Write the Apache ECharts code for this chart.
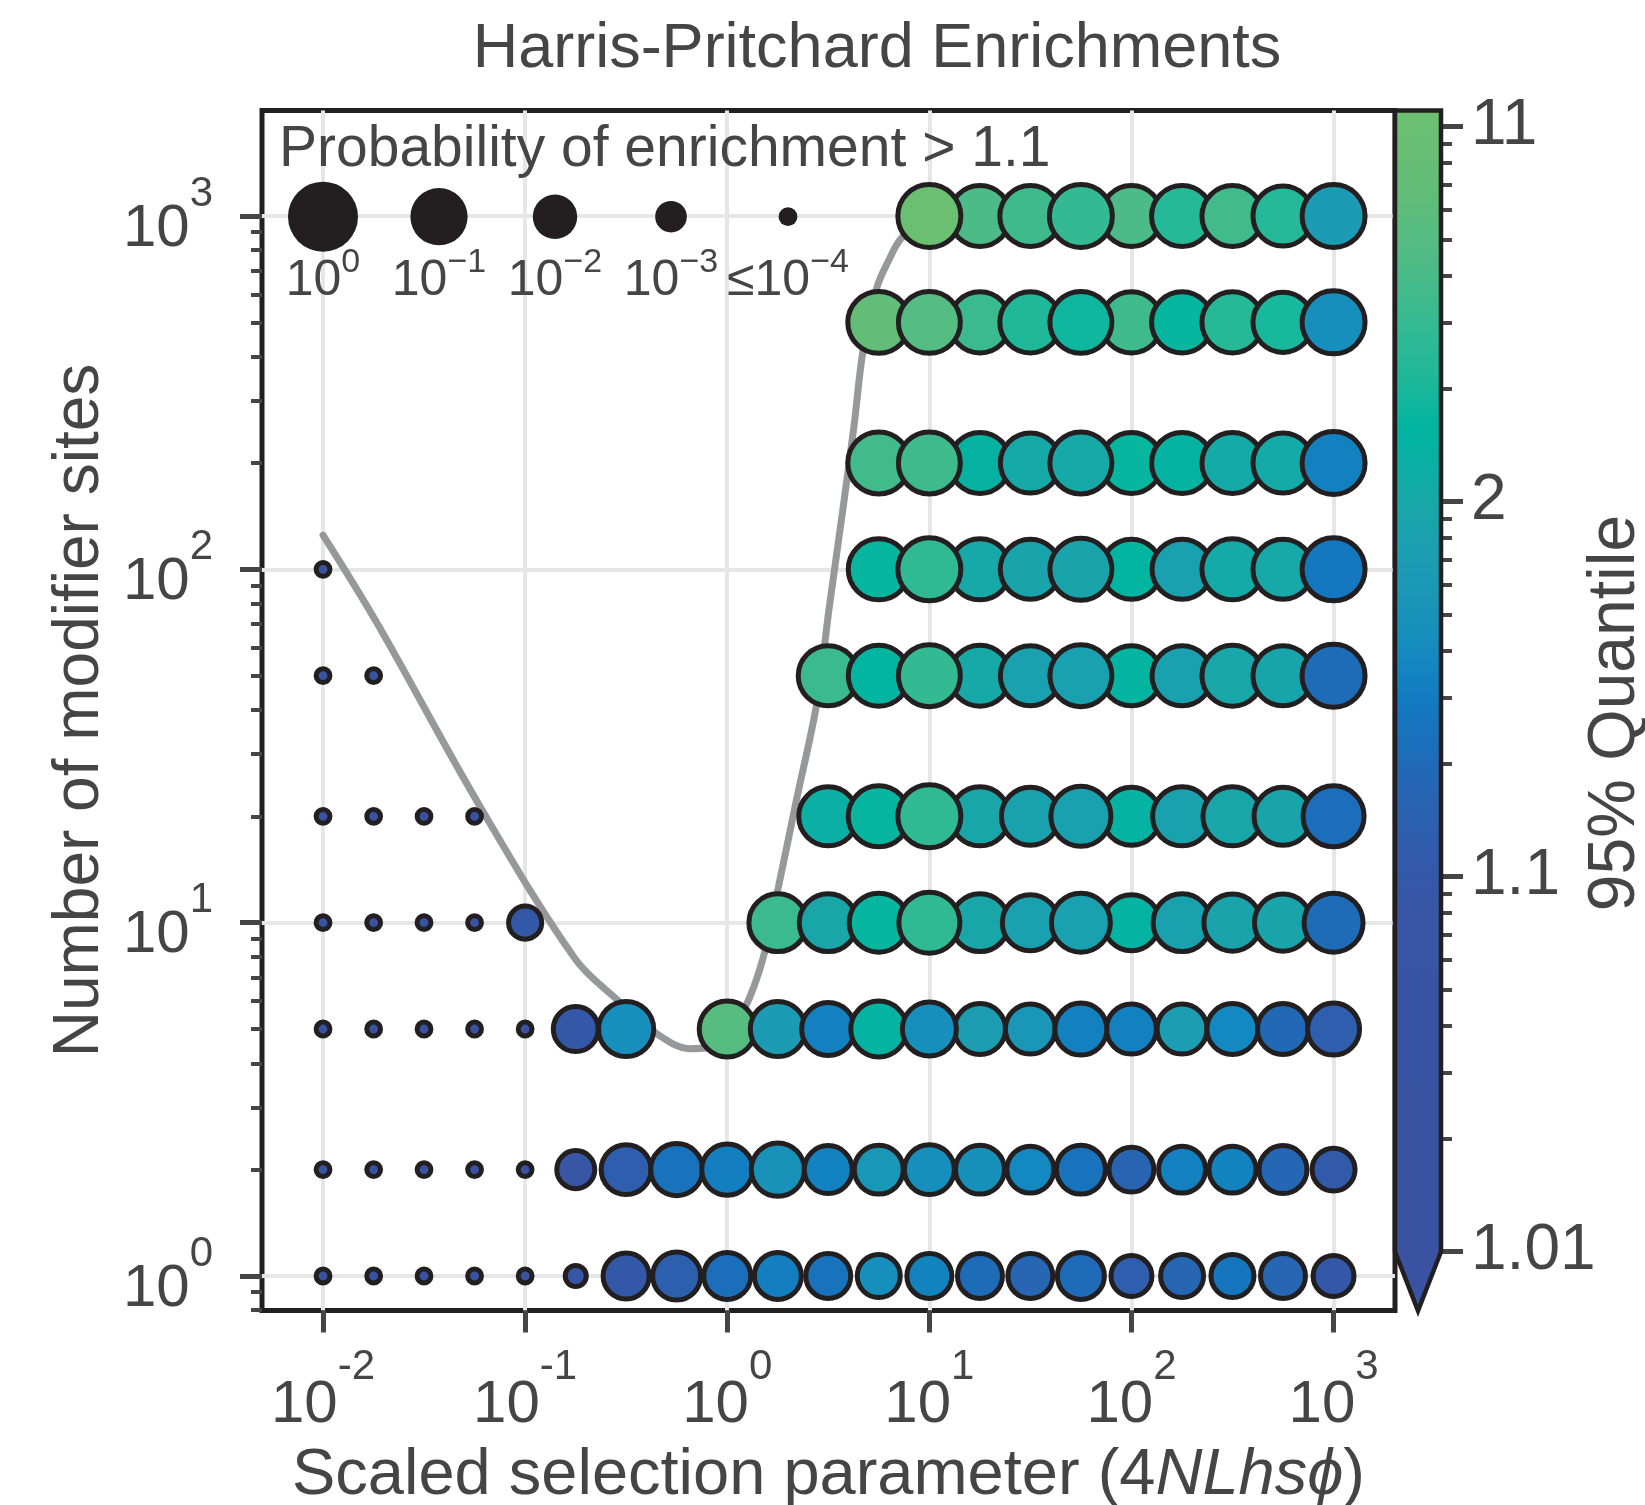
<!DOCTYPE html>
<html>
<head>
<meta charset="utf-8">
<script src="https://cdn.jsdelivr.net/npm/echarts@6/dist/echarts.min.js"></script>
<style>html,body{margin:0;padding:0;background:#fff}#chart{width:1645px;height:1505px}</style>
</head>
<body>
<div id="chart"></div>
<script>
// ---------------- DATA ----------------
const xValues = [0.01, 0.0178, 0.0316, 0.0562, 0.1, 0.178, 0.316, 0.562, 1, 1.78, 3.16,
                 5.62, 10, 17.8, 31.6, 56.2, 100, 178, 316, 562, 1000];
const siteCounts = [1, 2, 5, 10, 20, 50, 100, 200, 500, 1000];

// Probability of enrichment > 1.1 (null = no simulation)
const probN1    = [1e-4,1e-4,1e-4,1e-4,1e-4, 0.00037, 0.033,0.047,0.039,0.039,0.027, 0.019,0.027,0.027,0.027,0.039, 0.013,0.019,0.019,0.027,0.013];
const probN2    = [1e-4,1e-4,1e-4,1e-4,1e-4, 0.0078, 0.067,0.097,0.081,0.12,0.047, 0.056,0.067,0.056,0.039,0.056, 0.027,0.039,0.039,0.047,0.019];
const probN5    = [1e-4,1e-4,1e-4,1e-4,1e-4, 0.027, 0.17,null,0.20,0.17,0.12, 0.20,0.14,0.081,0.067,0.097, 0.067,0.067,0.081,0.081,0.097];
const probN10   = [1e-4,1e-4,1e-4,1e-4, 0.0032, null,null,null,null, 0.28,0.28, 0.34,0.49,0.28,0.20,0.34, 0.20,0.28,0.24,0.24,0.34];
const probN20   = [1e-4,1e-4,1e-4,1e-4, null,null,null,null,null,null, 0.34, 0.49,0.70,0.34,0.28,0.41, 0.28,0.34,0.34,0.28,0.49];
const probN50   = [1e-4,1e-4, null,null,null,null,null,null,null,null, 0.41, 0.49,0.58,0.49,0.41,0.58, 0.41,0.41,0.49,0.41,0.70];
const probN100  = [1e-4, null,null,null,null,null,null,null,null,null,null, 0.49,0.70,0.49,0.41,0.58, 0.41,0.41,0.49,0.41,0.70];
const probN200  = [null,null,null,null,null,null,null,null,null,null,null, 0.58,0.58,0.49,0.41,0.58, 0.49,0.49,0.49,0.41,0.70];
const probN500  = [null,null,null,null,null,null,null,null,null,null,null, 0.58,0.58,0.49,0.49,0.58, 0.49,0.49,0.49,0.41,0.70];
const probN1000 = [null,null,null,null,null,null,null,null,null,null,null,null, 0.70,0.49,0.49,0.70, 0.49,0.49,0.49,0.41,0.70];

// 95% quantile of enrichment
const quantN1    = [1.005,1.005,1.005,1.005,1.005, 1.063, 1.10,1.14,1.22,1.32,1.24, 1.45,1.35,1.21,1.17,1.21, 1.13,1.17,1.26,1.17,1.10];
const quantN2    = [1.005,1.005,1.005,1.005,1.005, 1.08, 1.13,1.24,1.32,1.50,1.34, 1.55,1.45,1.48,1.38,1.24, 1.16,1.33,1.35,1.18,1.11];
const quantN5    = [1.005,1.005,1.005,1.005,1.005, 1.10, 1.45,null,6.2,1.66,1.33, 2.45,1.45,1.70,1.56,1.33, 1.33,1.70,1.38,1.19,1.13];
const quantN10   = [1.005,1.005,1.005,1.005, 1.10, null,null,null,null, 4.3,1.95, 2.66,3.8,1.95,1.80,1.80, 2.45,1.83,1.87,1.87,1.21];
const quantN20   = [1.005,1.005,1.005,1.005, null,null,null,null,null,null, 2.26, 2.66,3.8,1.95,1.83,1.80, 2.45,1.83,1.95,1.87,1.22];
const quantN50   = [1.005,1.005, null,null,null,null,null,null,null,null, 4.3, 2.55,3.95,2.0,1.8,1.8, 2.48,1.8,1.95,1.9,1.21];
const quantN100  = [1.005, null,null,null,null,null,null,null,null,null,null, 2.66,3.8,2.0,1.87,1.87, 2.55,1.8,2.07,2.0,1.28];
const quantN200  = [null,null,null,null,null,null,null,null,null,null,null, 4.6,4.5,2.4,2.05,2.0, 2.66,2.45,2.07,2.07,1.33];
const quantN500  = [null,null,null,null,null,null,null,null,null,null,null, 7.8,6.0,4.3,3.2,2.8, 4.5,2.66,3.4,3.0,1.45];
const quantN1000 = [null,null,null,null,null,null,null,null,null,null,null,null, 11,5.2,4.5,3.95, 5.2,3.4,4.6,3.35,1.66];

// Grey boundary curve
const curveX = [0.01, 0.0184, 0.0596, 0.177, 0.286, 0.425, 0.656, 0.931, 1.21, 1.50, 1.79, 2.22, 2.77, 3.19, 3.71, 4.24, 4.71, 5.50, 6.27, 7.29, 10];
const curveY = [125, 70.8, 21.4, 7.89, 6.04, 4.95, 4.40, 4.55, 5.66, 7.89, 12.6, 22.8, 41.6, 77.3, 144, 255, 420, 627, 746, 867, 1000];

// Ticks / legend
const xTickExponents = [-2, -1, 0, 1, 2, 3];
const yTickExponents = [0, 1, 2, 3];
const colorbarTicks = [1.01, 1.1, 2, 11];
const legendProbs = [1, 0.1, 0.01, 0.001, 0.0001];
const legendExps = ['0', '\u22121', '\u22122', '\u22123', '\u22124'];
const legendPrefix = ['', '', '', '', '\u2264'];

// ---------------- STYLE ----------------
const FONT = '"Liberation Sans", Arial, Helvetica, sans-serif';
const TEXT = '#454545';
const EDGE = '#231f20';
const TICK = '#454545';
const GRIDC = '#e6e6e7';
const BORDER = 5;
const X_MIN = -2.302, X_MAX = 3.304, Y_MIN = -0.0977, Y_MAX = 3.2986;
const CB_MIN = -2, CB_MAX = 1.0426;

const cmapStops = [
  [-2.0, '#3a52a2'], [-1.1, '#3955a5'], [-1.0, '#3458a8'], [-0.82, '#2a62b0'], [-0.68, '#1e6cb8'],
  [-0.55, '#1278c0'], [-0.42, '#1488c0'], [-0.28, '#1a94b8'], [-0.15, '#1c9db2'], [0.0, '#17a8a8'],
  [0.19, '#00b5a0'], [0.30, '#18b89c'], [0.475, '#35ba92'], [0.65, '#50bb85'], [0.83, '#62bd78'], [1.0426, '#6cc070']
];
function hex2rgb(h){ return [parseInt(h.slice(1,3),16), parseInt(h.slice(3,5),16), parseInt(h.slice(5,7),16)]; }
function cmap(v){
  if (v <= cmapStops[0][0]) return cmapStops[0][1];
  for (let i = 1; i < cmapStops.length; i++) {
    if (v <= cmapStops[i][0]) {
      const a = cmapStops[i-1], b = cmapStops[i];
      const t = (v - a[0]) / (b[0] - a[0]);
      const ca = hex2rgb(a[1]), cb = hex2rgb(b[1]);
      const c = ca.map((x, k) => Math.round(x + (cb[k] - x) * t));
      return 'rgb(' + c.join(',') + ')';
    }
  }
  return cmapStops[cmapStops.length-1][1];
}
const NS = 80;
const cmapSamples = [];
for (let i = 0; i < NS; i++) cmapSamples.push(cmap(CB_MIN + (CB_MAX - CB_MIN) * i / (NS - 1)));
const gradStops = cmapSamples.map((c, i) => ({ offset: 1 - i / (NS - 1), color: c })).reverse();

function totalSize(logp){ return 70 + 12.8 * Math.max(logp, -4); }

// ---------------- BUILD ----------------
const probRows = [probN1, probN2, probN5, probN10, probN20, probN50, probN100, probN200, probN500, probN1000];
const quantRows = [quantN1, quantN2, quantN5, quantN10, quantN20, quantN50, quantN100, quantN200, quantN500, quantN1000];
const pts = [];
siteCounts.forEach((n, r) => {
  xValues.forEach((x, c) => {
    const p = probRows[r][c];
    if (p == null) return;
    const q = quantRows[r][c];
    pts.push({ col: c, value: [Math.log10(x), Math.log10(n), Math.max(Math.log10(p), -4), Math.max(Math.log10(q - 1), CB_MIN)] });
  });
});
const topCols = new Set([12, 15]);
const scatterData = pts.filter(p => !topCols.has(p.col)).concat(pts.filter(p => topCols.has(p.col)))
  .map(p => ({ value: p.value }));
const curveData = curveX.map((x, i) => [Math.log10(x), Math.log10(curveY[i])]);

const yMinor = [];
for (let e = -1; e <= 3; e++) for (let k = 2; k <= 9; k++) yMinor.push(e + Math.log10(k));
const cbMajor = colorbarTicks.map(q => Math.log10(q - 1));
const cbMinor = [];
for (let e = -2; e <= 1; e++) for (let k = 2; k <= 9; k++) cbMinor.push(e + Math.log10(k));

function supRich(base, sup, pad){
  return {
    b: { fontFamily: FONT, fontSize: base, color: TEXT, verticalAlign: 'bottom' },
    s: { fontFamily: FONT, fontSize: sup, color: TEXT, padding: [0, 0, pad, 0], verticalAlign: 'top' }
  };
}

const legendX = [323, 439, 555, 671, 788];
const graphics = [];
graphics.push({ type: 'text', x: 279, y: 150, z: 10, silent: true,
  style: { text: 'Probability of enrichment > 1.1', fontFamily: FONT, fontSize: 57, fill: TEXT,
           align: 'left', textAlign: 'left', verticalAlign: 'middle', textVerticalAlign: 'middle' } });
legendProbs.forEach((p, i) => {
  graphics.push({ type: 'circle', z: 10, silent: true, shape: { cx: legendX[i], cy: 216.7, r: totalSize(Math.log10(p)) / 2 }, style: { fill: EDGE } });
  graphics.push({ type: 'text', x: legendX[i], y: 276, z: 10, silent: true,
    style: { text: '{b|' + legendPrefix[i] + '10}{s|' + legendExps[i] + '}', rich: supRich(50, 34, 26),
             fontFamily: FONT, fontSize: 50, fill: TEXT,
             align: 'center', textAlign: 'center', verticalAlign: 'middle', textVerticalAlign: 'middle' } });
});
graphics.push({ type: 'text', x: 1616, y: 713, z: 10, rotation: Math.PI / 2, silent: true,
  style: { text: '95% Quantile', fontFamily: FONT, fontSize: 66, fill: TEXT,
           align: 'center', textAlign: 'center', verticalAlign: 'middle', textVerticalAlign: 'middle' } });

const option = {
  animation: false,
  backgroundColor: '#ffffff',
  title: {
    text: 'Harris-Pritchard Enrichments', left: 877, top: 18, textAlign: 'center', padding: 0,
    textStyle: { fontFamily: FONT, fontSize: 63, fontWeight: 'normal', color: TEXT }
  },
  grid: [
    { left: 262, top: 110.5, width: 1133, height: 1200, show: true, borderColor: EDGE, borderWidth: BORDER,
      backgroundColor: 'rgba(0,0,0,0)', containLabel: false, outerBoundsMode: 'none' },
    { left: 1395, top: 110.5, width: 46, height: 1141.2, show: false, containLabel: false, outerBoundsMode: 'none' }
  ],
  xAxis: [
    { gridIndex: 0, type: 'value', min: X_MIN, max: X_MAX, position: 'bottom',
      axisLine: { show: false, onZero: false },
      axisTick: { show: true, customValues: xTickExponents, length: 22, lineStyle: { color: TICK, width: 5 } },
      axisLabel: { show: true, customValues: xTickExponents, margin: 36, formatter: v => '{b|10}{s|' + v + '}',
                   rich: supRich(60, 42, 47) },
      splitLine: { show: true, lineStyle: { color: GRIDC, width: 4 } },
      name: '{n|Scaled selection parameter (4}{i|NLhs\u03d5}{n|)}', nameLocation: 'middle', nameGap: 133,
      nameTextStyle: { fontFamily: FONT, fontSize: 65, color: TEXT,
        rich: { n: { fontFamily: FONT, fontSize: 65, color: TEXT }, i: { fontFamily: FONT, fontSize: 65, color: TEXT, fontStyle: 'italic' } } }
    },
    { gridIndex: 1, type: 'value', min: 0, max: 1, show: false, axisLine: { onZero: false } }
  ],
  yAxis: [
    { gridIndex: 0, type: 'value', position: 'left', min: Y_MIN, max: Y_MAX,
      axisLine: { show: false, onZero: false },
      axisTick: { show: true, customValues: yTickExponents, length: 22, lineStyle: { color: TICK, width: 5 } },
      axisLabel: { show: true, customValues: yTickExponents, margin: 49, formatter: v => '{b|10}{s|' + v + '}',
                   rich: supRich(60, 42, 44) },
      splitLine: { show: true, lineStyle: { color: GRIDC, width: 4 } },
      name: 'Number of modifier sites', nameLocation: 'middle', nameGap: 142,
      nameTextStyle: { fontFamily: FONT, fontSize: 64, color: TEXT }
    },
    { gridIndex: 0, type: 'value', position: 'left', offset: 0, min: Y_MIN, max: Y_MAX,
      axisLine: { show: false, onZero: false }, axisLabel: { show: false }, splitLine: { show: false },
      axisTick: { show: true, customValues: yMinor, length: 11, lineStyle: { color: TICK, width: 4 } }
    },
    { gridIndex: 1, type: 'value', position: 'right', min: CB_MIN, max: CB_MAX,
      axisLine: { show: false, onZero: false }, splitLine: { show: false },
      axisTick: { show: true, customValues: cbMajor, length: 22, lineStyle: { color: TICK, width: 5 } },
      axisLabel: { show: true, customValues: cbMajor, margin: 30, fontFamily: FONT, fontSize: 64, color: TEXT,
                   formatter: v => String(parseFloat((1 + Math.pow(10, v)).toFixed(2))) }
    },
    { gridIndex: 1, type: 'value', position: 'right', offset: 0, min: CB_MIN, max: CB_MAX,
      axisLine: { show: false, onZero: false }, axisLabel: { show: false }, splitLine: { show: false },
      axisTick: { show: true, customValues: cbMinor, length: 11, lineStyle: { color: TICK, width: 4 } }
    }
  ],
  visualMap: {
    type: 'continuous', show: false, seriesIndex: 1, dimension: 3, min: CB_MIN, max: CB_MAX,
    inRange: { color: cmapSamples }
  },
  series: [
    { type: 'line', xAxisIndex: 0, yAxisIndex: 0, data: curveData, smooth: 0.35, symbol: 'none', silent: true, z: 2,
      lineStyle: { color: '#97989c', width: 7, cap: 'round' } },
    { type: 'scatter', xAxisIndex: 0, yAxisIndex: 0, data: scatterData, symbol: 'circle', silent: true, z: 3,
      symbolSize: v => totalSize(v[2]) - BORDER,
      itemStyle: { borderColor: EDGE, borderWidth: BORDER, opacity: 1 } },
    { type: 'custom', xAxisIndex: 1, yAxisIndex: 2, data: [[0.5, 0]], clip: false, silent: true, z: 2,
      renderItem: function (params, api) {
        const cs = params.coordSys;
        const x0 = cs.x, x1 = cs.x + cs.width;
        const yT = api.coord([0.5, CB_MAX])[1], yB = api.coord([0.5, CB_MIN])[1];
        return { type: 'polygon',
          shape: { points: [[x0, yT], [x1, yT], [x1, yB], [(x0 + x1) / 2, yB + 59], [x0, yB]] },
          style: { fill: new echarts.graphic.LinearGradient(x0, yT, x0, yB, gradStops, true), stroke: EDGE, lineWidth: 4.5 } };
      } }
  ],
  graphic: graphics
};
const chart = echarts.init(document.getElementById('chart'), null, { renderer: 'canvas', width: 1645, height: 1505 });
chart.setOption(option);
</script>
</body>
</html>
